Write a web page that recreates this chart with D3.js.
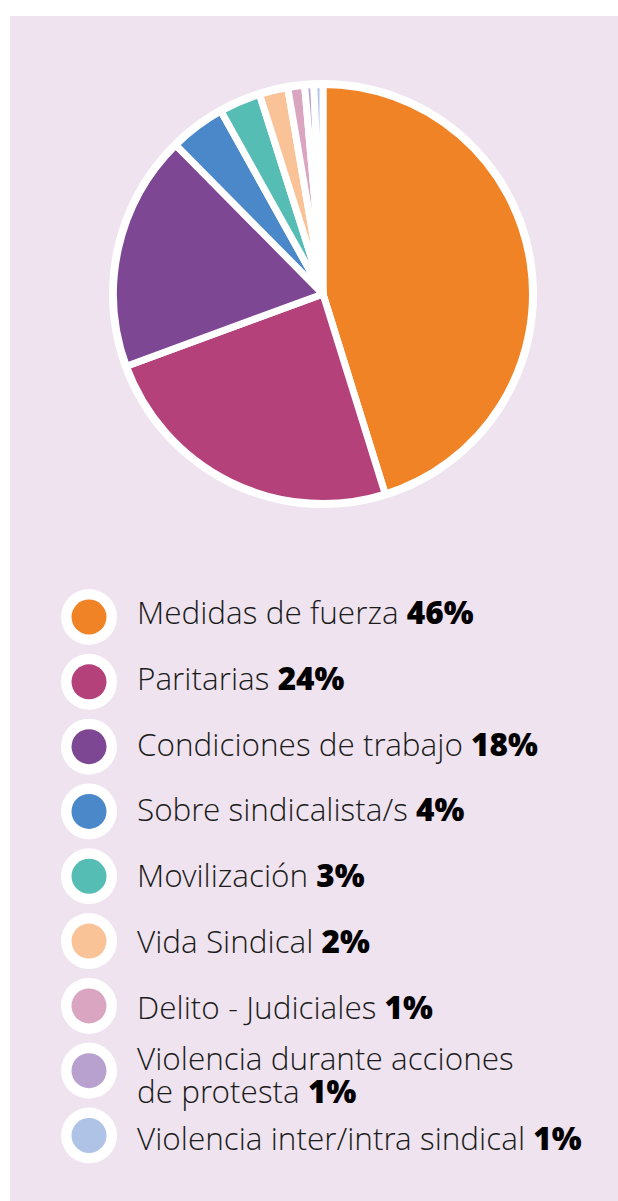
<!DOCTYPE html>
<html>
<head>
<meta charset="utf-8">
<script src="https://cdn.jsdelivr.net/npm/d3@7"></script>
<style>
  body { margin: 0; background: #fff; }
  svg { display: block; }
  .legend text { font-family: "Open Sans Light", "Open Sans", sans-serif; font-weight: 300; fill: #1b1b1b; }
  .legend .pct { font-family: "Open Sans", sans-serif; font-weight: 800; fill: #000; }
</style>
</head>
<body>
<div class="chart"></div>
<script>
// categories, in the clockwise order of the slices
const categories = [
  'Medidas de fuerza',
  'Paritarias',
  'Condiciones de trabajo',
  'Sobre sindicalista/s',
  'Movilización',
  'Vida Sindical',
  'Delito - Judiciales',
  'Violencia durante acciones\nde protesta',
  'Violencia inter/intra sindical'
];
// share of each slice
const values = [45.2, 24.2, 18.2, 4.3, 3.2, 2.2, 1.3, 0.7, 0.7];
const pctLabels = ['46%', '24%', '18%', '4%', '3%', '2%', '1%', '1%', '1%'];
const colors = ['#f08326', '#b5417b', '#7d4794', '#4a88c9', '#55bdb4',
                '#f9c397', '#d9a5c0', '#b8a1cf', '#aec3e6'];

const W = 618, H = 1201;
const svg = d3.select('.chart')
  .append('svg')
  .attr('width', W)
  .attr('height', H);

// panel
svg.append('rect')
  .attr('x', 10)
  .attr('y', 16)
  .attr('width', W - 10)
  .attr('height', H - 16)
  .attr('fill', '#eee3ee');

const color = d3.scaleOrdinal().domain(categories).range(colors);

// pie
const cx = 323, cy = 294;
const pieG = svg.append('g')
  .attr('transform', 'translate(' + cx + ',' + cy + ')');

pieG.append('circle')
  .attr('r', 214)
  .attr('fill', '#fff');

const pie = d3.pie().sort(null).value(d => d.value);
const arc = d3.arc().innerRadius(0).outerRadius(209.5);

const data = categories.map((c, i) => ({name: c, value: values[i], pct: pctLabels[i]}));

pieG.selectAll('path')
  .data(pie(data))
  .enter()
  .append('path')
  .attr('d', arc)
  .attr('fill', d => color(d.data.name))
  .attr('stroke', '#fff')
  .attr('stroke-width', 7)
  .attr('stroke-linejoin', 'round');

// legend
const yDot = d3.scalePoint().domain(categories).range([617, 1135.5]);
const yText = d3.scalePoint().domain(categories).range([624, 1150]);

const legend = svg.append('g').attr('class', 'legend');

const rows = legend.selectAll('g')
  .data(data)
  .enter()
  .append('g');

rows.append('circle')
  .attr('cx', 89)
  .attr('cy', d => yDot(d.name))
  .attr('r', 28)
  .attr('fill', '#fff');

rows.append('circle')
  .attr('cx', 89)
  .attr('cy', d => yDot(d.name))
  .attr('r', 17.5)
  .attr('fill', d => color(d.name));

rows.each(function(d) {
  const lines = d.name.split('\n');
  const y0 = yText(d.name) - 14 * (lines.length - 1);
  const t = d3.select(this).append('text')
    .attr('x', 137)
    .attr('y', y0)
    .style('font-size', '31.5px');
  lines.forEach((line, i) => {
    const ts = t.append('tspan').text(line);
    if (i > 0) ts.attr('x', 137).attr('y', y0 + 33 * i);
  });
  t.append('tspan')
    .attr('class', 'pct')
    .text(' ' + d.pct);
});
</script>
</body>
</html>
